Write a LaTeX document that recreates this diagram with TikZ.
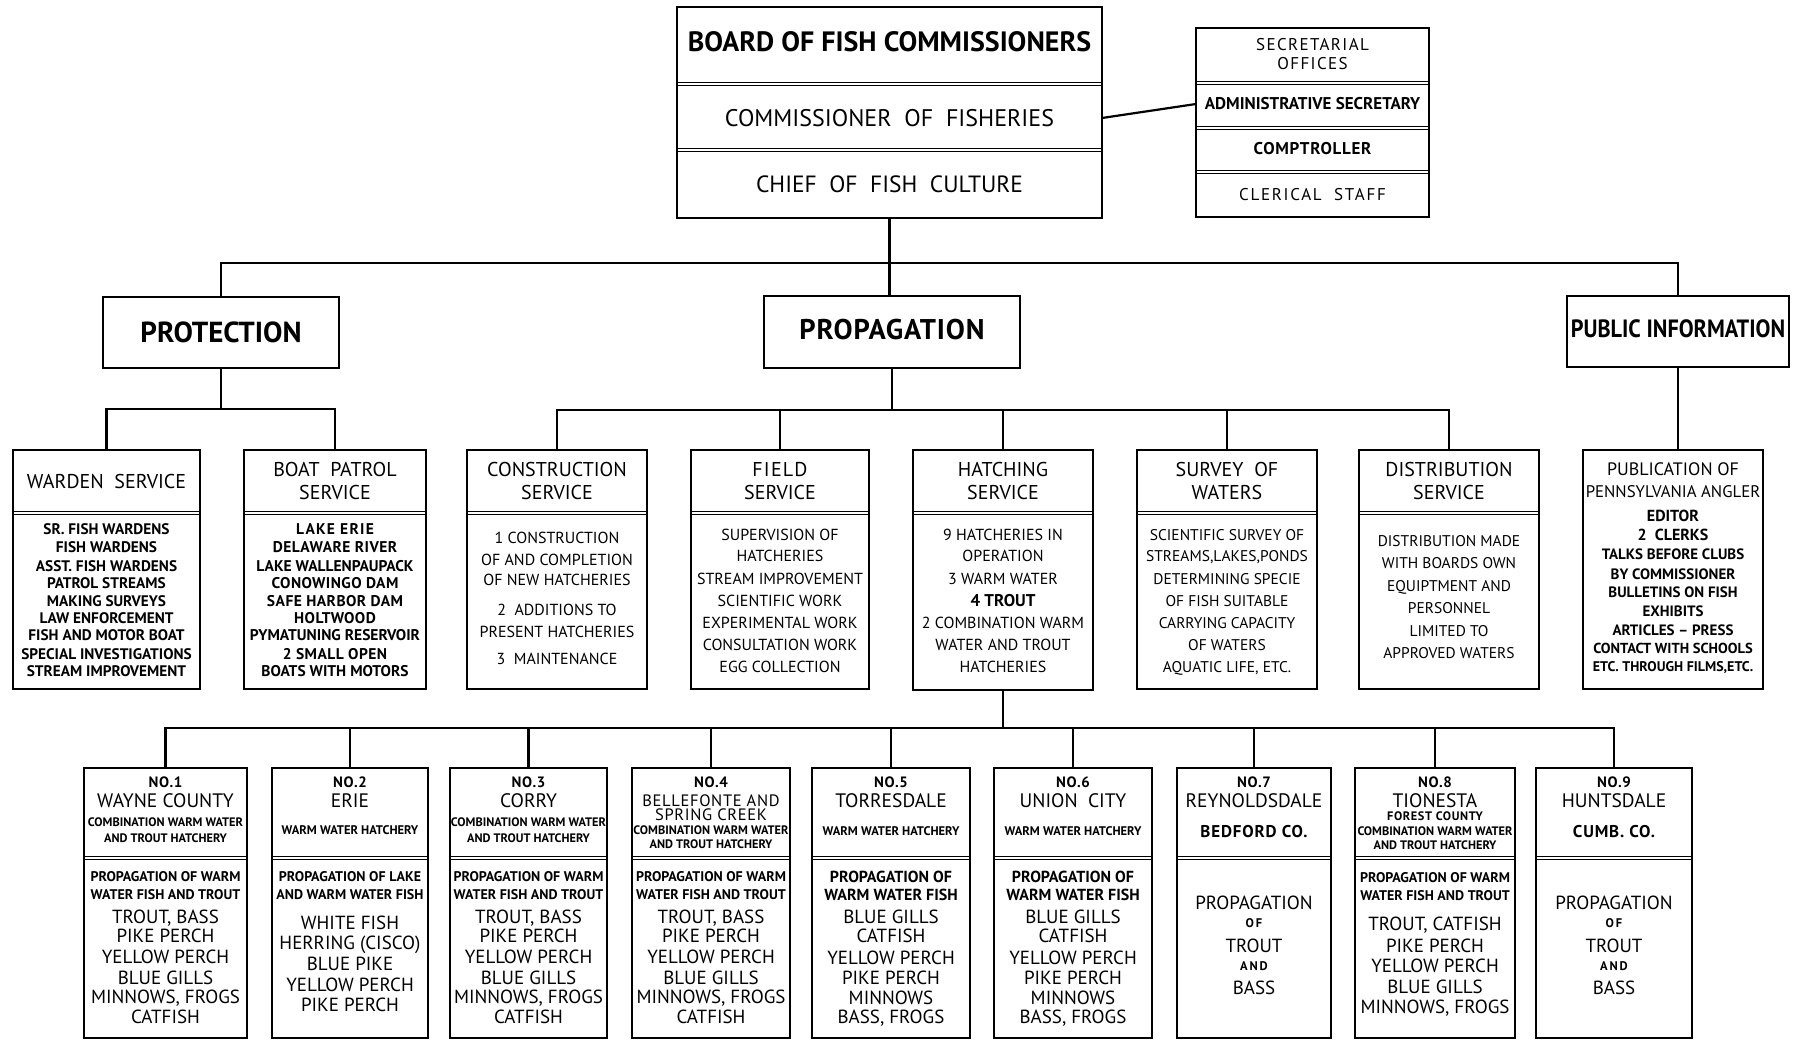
\documentclass[tikz,border=0pt]{standalone}
\usepackage{fontspec}
\usepackage{graphicx}
\setmainfont{PT Sans}
\usetikzlibrary{fit}

% font helpers: size in pt, regular or bold
\newcommand\fR[1]{\fontsize{#1}{#1}\selectfont\mdseries}
\newcommand\fB[1]{\fontsize{#1}{#1}\selectfont\bfseries}
\newcommand\hs[2]{\scalebox{#1}[1]{#2}}
\newcommand\lsp[1]{\addfontfeature{LetterSpace=#1}}
% centre the capitals of a line on the baseline of its node
\newcommand\cl[2]{{#1\raisebox{-0.35em}{#2}}}
% one node per text line, centred in box #1, at the given heights
\newcommand\boxlines[2]{%
  \foreach \yy/\ff/\tx [count=\i] in {#2}{%
    \node[ln] (#1-\i) at (#1.center |- 0,\yy) {\cl{\ff}{\tx}};}}
% recurring line styles of the hatchery boxes
\newcommand\hNo{\fB{15}\lsp{5}}
\newcommand\hNm{\fR{19.5}}
\newcommand\hSm{\fB{12.3}}
\newcommand\hPr{\fB{14}}
\newcommand\hBg{\fR{19}}

\tikzset{
  bx/.style={draw, line width=2.6pt, inner sep=0pt, outer sep=0pt},
  dv/.style={line width=1.3pt, double distance=1.8pt, shorten <=1.3pt, shorten >=1.3pt},
  cn/.style={line width=2.2pt},
  ln/.style={anchor=base, inner sep=0pt}
}

\begin{document}
\begin{tikzpicture}[x=1pt,y=-1pt]
\useasboundingbox (0,0) rectangle (1795,1040);
\fill[white] (0,0) rectangle (1795,1040);
\clip (0,0) rectangle (1795,1040);

% ---------- boxes ----------
\node[bx, fit={(677,7) (1102,218)}] (board) {};
\node[bx, fit={(1196,28) (1429,217)}] (sec) {};
\node[bx, fit={(103,297) (339,368)}] (prot) {};
\node[bx, fit={(764,296) (1020,368)}] (prop) {};
\node[bx, fit={(1567,296) (1789,367)}] (pub) {};

\node[bx, fit={(13,450) (200,689)}] (warden) {};
\node[bx, fit={(244,450) (426,689)}] (boat) {};
\node[bx, fit={(467,450) (647,689)}] (constr) {};
\node[bx, fit={(691,450) (869,689)}] (field) {};
\node[bx, fit={(913,450) (1093,690)}] (hatch) {};
\node[bx, fit={(1137,450) (1317,689)}] (survey) {};
\node[bx, fit={(1359,450) (1539,689)}] (dist) {};
\node[bx, fit={(1583,450) (1763,689)}] (publ) {};

\foreach \n/\xa/\xb in {1/84/247, 2/272/428, 3/450/607, 4/632/790, 5/812/970,
                        6/994/1152, 7/1177/1331, 8/1355/1515, 9/1536/1692}
  \node[bx, fit={(\xa,768) (\xb,1038)}] (h\n) {};

% ---------- section dividers ----------
\foreach \n/\yy in {board/84, board/150, sec/83, sec/128, sec/172,
                    warden/513, boat/513, constr/513, field/513, hatch/513,
                    survey/513, dist/513,
                    h1/858, h2/858, h3/858, h4/858, h5/858, h6/858, h7/858, h8/858, h9/858}
  \draw[dv] (\n.west |- 0,\yy) -- (\n.east |- 0,\yy);

% ---------- texts ----------
\boxlines{board}{42/\fB{28}/BOARD OF FISH COMMISSIONERS,
  118/\fR{24}/COMMISSIONER\ \ OF\ \ FISHERIES,
  184/\fR{23.5}/CHIEF\ \ OF\ \ FISH\ \ CULTURE}
\boxlines{sec}{45/\fR{17}\lsp{8}/SECRETARIAL, 64/\fR{17}\lsp{8}/OFFICES,
  104/\fB{17}/ADMINISTRATIVE SECRETARY, 149/\fB{17}\lsp{4}/COMPTROLLER,
  195/\fR{17}\lsp{10}/CLERICAL\ \ STAFF}

\boxlines{prot}{332/\fB{29}/PROTECTION}
\boxlines{prop}{330/\fB{28.5}\lsp{3}/PROPAGATION}
\boxlines{pub}{329/\fB{25}/\hs{.89}{PUBLIC INFORMATION}}

\boxlines{warden}{481/\fR{20}/WARDEN\ \ SERVICE,
  529/\fB{15.3}/SR. FISH WARDENS,
  547/\fB{15.3}/FISH WARDENS,
  566/\fB{15.3}/ASST. FISH WARDENS,
  583/\fB{15.3}/PATROL STREAMS,
  601/\fB{15.3}/MAKING SURVEYS,
  618/\fB{15.3}/LAW ENFORCEMENT,
  635/\fB{15.3}/FISH AND MOTOR BOAT,
  654/\fB{15.3}/SPECIAL INVESTIGATIONS,
  671/\fB{15.3}/STREAM IMPROVEMENT}
\boxlines{boat}{469/\fR{20}/BOAT\ \ PATROL, 492/\fR{20}/SERVICE,
  529/\fB{15.5}\lsp{8}/LAKE ERIE,
  547/\fB{15.5}\lsp{3}/DELAWARE RIVER,
  566/\fB{15.5}/LAKE WALLENPAUPACK,
  583/\fB{15.5}\lsp{3}/CONOWINGO DAM,
  601/\fB{15.5}\lsp{3}/SAFE HARBOR DAM,
  618/\fB{15.5}\lsp{3}/HOLTWOOD,
  635/\fB{15.5}/PYMATUNING RESERVOIR,
  654/\fB{15.5}\lsp{3}/2 SMALL OPEN,
  671/\fB{15.5}/BOATS WITH MOTORS}
\boxlines{constr}{469/\fR{20}/CONSTRUCTION, 492/\fR{20}/SERVICE,
  538/\fR{16}/1 CONSTRUCTION,
  560/\fR{16}/OF AND COMPLETION,
  580/\fR{16}/OF NEW HATCHERIES,
  610/\fR{16}/2\ \ ADDITIONS TO,
  632/\fR{16}/PRESENT HATCHERIES,
  659/\fR{16}/3\ \ MAINTENANCE}
\boxlines{field}{469/\fR{20}\lsp{6}/FIELD, 492/\fR{20}/SERVICE,
  535/\fR{16}/SUPERVISION OF,
  556/\fR{16}/HATCHERIES,
  579/\fR{16}/STREAM IMPROVEMENT,
  601/\fR{16}/SCIENTIFIC WORK,
  623/\fR{16}/EXPERIMENTAL WORK,
  645/\fR{16}/CONSULTATION WORK,
  667/\fR{16}/EGG COLLECTION}
\boxlines{hatch}{469/\fR{20}/HATCHING, 492/\fR{20}/SERVICE,
  535/\fR{16}/9 HATCHERIES IN,
  556/\fR{16}/OPERATION,
  579/\fR{16}/3 WARM WATER,
  601/\fB{17}/4 TROUT,
  623/\fR{16}/2 COMBINATION WARM,
  645/\fR{16}/WATER AND TROUT,
  667/\fR{16}/HATCHERIES}
\boxlines{survey}{469/\fR{20}/SURVEY\ \ OF, 492/\fR{20}/WATERS,
  535/\fR{15.5}/SCIENTIFIC SURVEY OF,
  556/\fR{15.5}/{STREAMS,LAKES,PONDS},
  579/\fR{15.5}/DETERMINING SPECIE,
  601/\fR{15.5}/OF FISH SUITABLE,
  623/\fR{15.5}/CARRYING CAPACITY,
  645/\fR{15.5}/OF WATERS,
  667/\fR{15.5}/{AQUATIC LIFE, ETC.}}
\boxlines{dist}{469/\fR{20}/DISTRIBUTION, 492/\fR{20}/SERVICE,
  541/\fR{15.5}/DISTRIBUTION MADE,
  563/\fR{15.5}/WITH BOARDS OWN,
  586/\fR{15.5}/EQUIPTMENT AND,
  608/\fR{15.5}/PERSONNEL,
  631/\fR{15.5}/LIMITED TO,
  653/\fR{15.5}/APPROVED WATERS}
\boxlines{publ}{469/\fR{18}/PUBLICATION OF,
  492/\fR{16.8}/PENNSYLVANIA ANGLER,
  516/\fB{16}/EDITOR,
  535/\fB{16}/2\ \ CLERKS,
  554/\fB{15}/TALKS BEFORE CLUBS,
  574/\fB{15}/BY COMMISSIONER,
  592/\fB{15}/BULLETINS ON FISH,
  611/\fB{15}/EXHIBITS,
  630/\fB{15}/ARTICLES -- PRESS,
  648/\fB{14.5}/CONTACT WITH SCHOOLS,
  667/\fB{14}/{ETC. THROUGH FILMS,ETC.}}

% hatcheries
\boxlines{h1}{782/\hNo/NO.1, 801/\hNm/WAYNE COUNTY,
  822/\hSm/COMBINATION WARM WATER,
  838/\hSm/AND TROUT HATCHERY,
  877/\hPr/PROPAGATION OF WARM,
  895/\hPr/WATER FISH AND TROUT,
  917/\hBg/{TROUT, BASS},
  936/\hBg/PIKE PERCH,
  957/\hBg/YELLOW PERCH,
  978/\hBg/BLUE GILLS,
  997/\hBg/{MINNOWS, FROGS},
  1017/\hBg/CATFISH}
\boxlines{h2}{782/\hNo/NO.2, 801/\hNm/ERIE,
  830/\fB{12.5}/WARM WATER HATCHERY,
  877/\hPr/PROPAGATION OF LAKE,
  895/\hPr/AND WARM WATER FISH,
  923/\hBg/WHITE FISH,
  943/\hBg/HERRING (CISCO),
  964/\hBg/BLUE PIKE,
  985/\hBg/YELLOW PERCH,
  1005/\hBg/PIKE PERCH}
\boxlines{h3}{782/\hNo/NO.3, 801/\hNm/CORRY,
  822/\hSm/COMBINATION WARM WATER,
  838/\hSm/AND TROUT HATCHERY,
  877/\hPr/PROPAGATION OF WARM,
  895/\hPr/WATER FISH AND TROUT,
  917/\hBg/{TROUT, BASS},
  936/\hBg/PIKE PERCH,
  957/\hBg/YELLOW PERCH,
  978/\hBg/BLUE GILLS,
  997/\hBg/{MINNOWS, FROGS},
  1017/\hBg/CATFISH}
\boxlines{h4}{782/\hNo/NO.4, 801/\fR{16.5}\lsp{4}/BELLEFONTE AND,
  815/\fR{16.5}\lsp{4}/SPRING CREEK,
  830/\hSm/COMBINATION WARM WATER,
  844/\hSm/AND TROUT HATCHERY,
  877/\hPr/PROPAGATION OF WARM,
  895/\hPr/WATER FISH AND TROUT,
  917/\hBg/{TROUT, BASS},
  936/\hBg/PIKE PERCH,
  957/\hBg/YELLOW PERCH,
  978/\hBg/BLUE GILLS,
  997/\hBg/{MINNOWS, FROGS},
  1017/\hBg/CATFISH}
\boxlines{h5}{782/\hNo/NO.5, 801/\hNm/TORRESDALE,
  831/\fB{12.5}/WARM WATER HATCHERY,
  877/\fB{16}/PROPAGATION OF,
  895/\fB{16}/WARM WATER FISH,
  917/\hBg/BLUE GILLS,
  936/\hBg/CATFISH,
  958/\hBg/YELLOW PERCH,
  978/\hBg/PIKE PERCH,
  998/\hBg/MINNOWS,
  1017/\hBg/{BASS, FROGS}}
\boxlines{h6}{782/\hNo/NO.6, 801/\hNm/UNION\ \ CITY,
  831/\fB{12.5}/WARM WATER HATCHERY,
  877/\fB{16}/PROPAGATION OF,
  895/\fB{16}/WARM WATER FISH,
  917/\hBg/BLUE GILLS,
  936/\hBg/CATFISH,
  958/\hBg/YELLOW PERCH,
  978/\hBg/PIKE PERCH,
  998/\hBg/MINNOWS,
  1017/\hBg/{BASS, FROGS}}
\boxlines{h7}{782/\hNo/NO.7, 801/\hNm/REYNOLDSDALE,
  832/\fB{17}\lsp{5}/BEDFORD CO.,
  903/\fR{19}/PROPAGATION,
  923/\fB{12.5}\lsp{15}/OF,
  946/\hBg/TROUT,
  966/\fB{12.5}\lsp{15}/AND,
  988/\hBg/BASS}
\boxlines{h8}{782/\hNo/NO.8, 801/\hNm/TIONESTA,
  816/\fB{12.3}\lsp{5}/FOREST COUNTY,
  831/\hSm/COMBINATION WARM WATER,
  845/\hSm/AND TROUT HATCHERY,
  878/\hPr/PROPAGATION OF WARM,
  896/\hPr/WATER FISH AND TROUT,
  924/\hBg/{TROUT, CATFISH},
  946/\hBg/PIKE PERCH,
  966/\hBg/YELLOW PERCH,
  987/\hBg/BLUE GILLS,
  1007/\hBg/{MINNOWS, FROGS}}
\boxlines{h9}{782/\hNo/NO.9, 801/\hNm/HUNTSDALE,
  832/\fB{17}\lsp{5}/CUMB. CO.,
  903/\fR{19}/PROPAGATION,
  923/\fB{12.5}\lsp{15}/OF,
  946/\hBg/TROUT,
  966/\fB{12.5}\lsp{15}/AND,
  988/\hBg/BASS}

% ---------- connectors ----------
\draw[cn] (board.south) -- (board.south |- prop.north);
\draw[cn] (prot.north) -- (prot.north |- 0,263) -- (pub.north |- 0,263) -- (pub.north);
\draw[cn] (board.east |- board-2) -- (sec.west |- sec-3);

\draw[cn] (prot.south) -- (prot.south |- 0,409);
\draw[cn] (warden.north) -- (warden.north |- 0,409) -- (boat.north |- 0,409) -- (boat.north);

\draw[cn] (prop.south) -- (prop.south |- 0,410);
\draw[cn] (constr.north) -- (constr.north |- 0,410) -- (dist.north |- 0,410) -- (dist.north);
\foreach \n in {field,hatch,survey}
  \draw[cn] (\n.north) -- (\n.north |- 0,410);

\draw[cn] (pub.south) -- (pub.south |- publ.north);

\draw[cn] (hatch.south) -- (hatch.south |- 0,728);
\draw[cn] (h1.north) -- (h1.north |- 0,728) -- (h9.north |- 0,728) -- (h9.north);
\foreach \k in {2,...,8}
  \draw[cn] (h\k.north) -- (h\k.north |- 0,728);
\end{tikzpicture}
\end{document}
